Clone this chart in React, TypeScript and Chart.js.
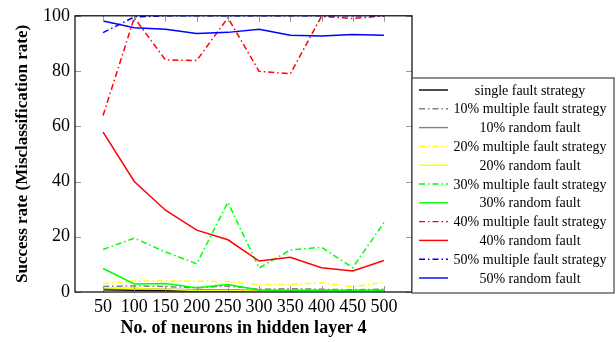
import React, { useEffect, useRef } from "react";
import { Chart, registerables } from "chart.js";

Chart.register(...registerables);

const neurons = [50, 100, 150, 200, 250, 300, 350, 400, 450, 500];
const xTicks = [50, 100, 150, 200, 250, 300, 350, 400, 450, 500];
const yTicks = [0, 20, 40, 60, 80, 100];

const singleFault = [0.8, 0.6, 0.5, 0.4, 0.4, 0.3, 0.3, 0.3, 0.3, 0.3];
const multi10 = [2.0, 2.2, 2.0, 1.5, 2.2, 1.0, 1.2, 1.0, 0.8, 1.0];
const random10 = [1.2, 1.3, 1.0, 0.8, 0.8, 0.5, 0.5, 0.5, 0.5, 0.5];
const multi20 = [3.1, 4.0, 4.0, 3.9, 3.8, 2.7, 2.7, 3.3, 1.9, 3.5];
const random20 = [1.5, 1.2, 1.0, 0.5, 0.5, 0.3, 0.3, 0.3, 0.2, 0.3];
const multi30 = [15.4, 19.5, 14.5, 10.2, 32.5, 8.7, 15.2, 16.2, 8.8, 25.1];
const random30 = [8.5, 2.9, 3.1, 1.5, 2.7, 0.7, 0.6, 0.6, 0.5, 0.6];
const multi40 = [63.9, 99.3, 84.0, 83.8, 99.3, 79.9, 79.0, 99.8, 99.0, 100];
const random40 = [57.9, 40.0, 29.6, 22.4, 18.9, 11.2, 12.6, 8.8, 7.6, 11.4];
const multi50 = [93.9, 99.6, 100, 100, 100, 100, 100, 100, 100, 100];
const random50 = [98.1, 95.7, 95.1, 93.6, 94.0, 95.1, 93.0, 92.7, 93.2, 93.0];

const seriesLabels = [
  "single fault strategy",
  "10% multiple fault strategy",
  "10% random fault",
  "20% multiple fault strategy",
  "20% random fault",
  "30% multiple fault strategy",
  "30% random fault",
  "40% multiple fault strategy",
  "40% random fault",
  "50% multiple fault strategy",
  "50% random fault",
];
const seriesValues = [
  singleFault, multi10, random10, multi20, random20, multi30, random30,
  multi40, random40, multi50, random50,
];
const seriesColors = [
  "#000000", "#808080", "#808080", "#ffff00", "#ffff00", "#00ff00", "#00ff00",
  "#ff0000", "#ff0000", "#0000ff", "#0000ff",
];
const seriesDashed = [false, true, false, true, false, true, false, true, false, true, false];

const DASH = [6, 3, 1.5, 3];
const SERIF = "'Liberation Serif', 'DejaVu Serif', serif";

const framePlugin = {
  id: "framePlugin",
  afterDatasetsDraw(chart: any) {
    const { ctx, chartArea } = chart;
    const { left, right, top, bottom } = chartArea;
    const xs = chart.scales.x;
    const ys = chart.scales.y;
    ctx.save();
    // inner ticks
    ctx.strokeStyle = "#999999";
    ctx.lineWidth = 1;
    ctx.beginPath();
    xTicks.forEach((v) => {
      const px = Math.round(xs.getPixelForValue(v)) + 0.5;
      ctx.moveTo(px, bottom);
      ctx.lineTo(px, bottom - 6);
      ctx.moveTo(px, top);
      ctx.lineTo(px, top + 6);
    });
    yTicks.forEach((v) => {
      const py = Math.round(ys.getPixelForValue(v)) + 0.5;
      ctx.moveTo(left, py);
      ctx.lineTo(left + 6, py);
      ctx.moveTo(right, py);
      ctx.lineTo(right - 6, py);
    });
    ctx.stroke();
    // frame
    ctx.strokeStyle = "#000000";
    ctx.lineWidth = 1.2;
    ctx.strokeRect(left, top, right - left, bottom - top);

    // legend
    const lx = right;
    const ly = 78;
    const lw = 614 - right;
    const lh = bottom + 1 - ly;
    ctx.fillStyle = "#ffffff";
    ctx.fillRect(lx, ly, lw, lh);
    ctx.strokeStyle = "#444444";
    ctx.lineWidth = 1.2;
    ctx.strokeRect(lx, ly, lw, lh);
    ctx.font = `14px ${SERIF}`;
    ctx.textAlign = "center";
    ctx.textBaseline = "middle";
    seriesLabels.forEach((label, i) => {
      const y = ly + 12 + i * 18.8;
      ctx.strokeStyle = seriesColors[i];
      ctx.lineWidth = 1.4;
      ctx.setLineDash(seriesDashed[i] ? DASH : []);
      ctx.beginPath();
      ctx.moveTo(lx + 7, y);
      ctx.lineTo(lx + 36, y);
      ctx.stroke();
      ctx.setLineDash([]);
      ctx.fillStyle = "#000000";
      ctx.fillText(label, lx + 118, y + 1);
    });
    ctx.restore();
  },
};

export default function App() {
  const ref = useRef<HTMLCanvasElement | null>(null);
  useEffect(() => {
    document.body.style.margin = "0";
    const canvas = ref.current;
    if (!canvas) return;
    const datasets = seriesLabels.map((label, i) => ({
      label,
      data: neurons.map((n, j) => ({ x: n, y: seriesValues[i][j] })),
      borderColor: seriesColors[i],
      backgroundColor: seriesColors[i],
      borderWidth: 1.5,
      borderDash: seriesDashed[i] ? DASH : [],
      pointRadius: 0,
      tension: 0,
      fill: false,
      order: seriesLabels.length - i,
    }));
    const chart = new Chart(canvas, {
      type: "line",
      data: { datasets },
      plugins: [framePlugin],
      options: {
        animation: false,
        responsive: false,
        maintainAspectRatio: false,
        layout: { padding: { top: 13, right: 204, left: 0, bottom: 0 } },
        plugins: { legend: { display: false }, tooltip: { enabled: false } },
        scales: {
          x: {
            type: "linear",
            min: 5,
            max: 545,
            grid: { display: false, drawTicks: false },
            border: { display: false },
            afterBuildTicks: (s: any) => {
              s.ticks = xTicks.map((v) => ({ value: v }));
            },
            afterFit: (s: any) => {
              s.height = 50;
            },
            ticks: {
              color: "#000000",
              padding: 4,
              maxRotation: 0,
              autoSkip: false,
              font: { family: SERIF, size: 18 },
              callback: (v: any) => String(v),
            },
            title: {
              display: true,
              text: "No. of neurons in hidden layer 4",
              color: "#000000",
              font: { family: SERIF, size: 18, weight: "bold" },
              padding: { top: 0, bottom: 3 },
            },
          },
          y: {
            type: "linear",
            min: 0,
            max: 100,
            grid: { display: false, drawTicks: false },
            border: { display: false },
            afterBuildTicks: (s: any) => {
              s.ticks = yTicks.map((v) => ({ value: v }));
            },
            afterFit: (s: any) => {
              s.width = 75;
            },
            ticks: {
              color: "#000000",
              padding: 5,
              font: { family: SERIF, size: 18 },
              callback: (v: any) => String(v),
            },
            title: {
              display: true,
              text: "Success rate (Misclassification rate)",
              color: "#000000",
              font: { family: SERIF, size: 17, weight: "bold" },
              padding: { top: 12, bottom: 0 },
            },
          },
        },
      },
    } as any);
    return () => chart.destroy();
  }, []);
  return (
    <div style={{ position: "absolute", left: 0, top: 0, width: 616, height: 342 }}>
      <canvas ref={ref} width={616} height={342} style={{ width: 616, height: 342 }} />
    </div>
  );
}
